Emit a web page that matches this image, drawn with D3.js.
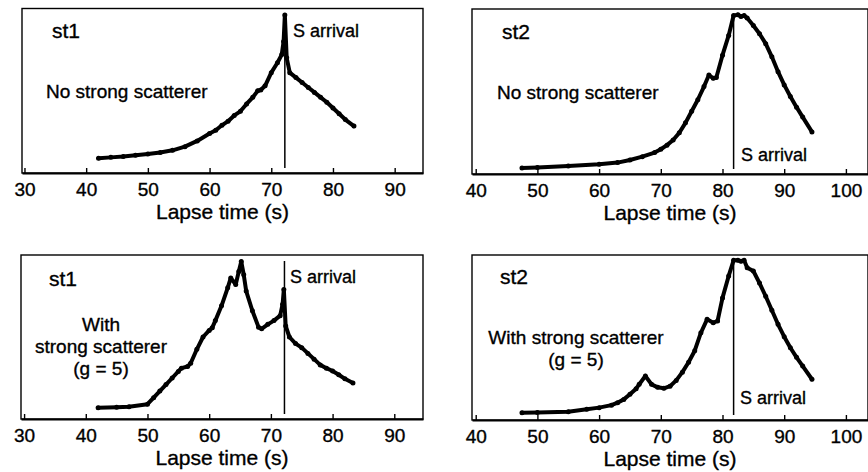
<!DOCTYPE html>
<html>
<head>
<meta charset="utf-8">
<script src="https://cdn.jsdelivr.net/npm/d3@7"></script>
<style>
    body { margin: 0; background: #fff; }
    svg { display: block; }
    text { font-family: "Liberation Sans", Arial, sans-serif; fill: #000; stroke: #000; stroke-width: 0.35; }
    .frame { fill: none; stroke: #000; stroke-width: 1.4; }
    .axis path { stroke: #000; stroke-width: 2; }
    .axis line { stroke: #000; stroke-width: 1.4; }
    .trace { fill: none; stroke: #000; stroke-width: 4; stroke-linejoin: round; stroke-linecap: round; }
    .sline { stroke: #000; stroke-width: 1.5; }
</style>
</head>
<body>
<div id="chart"></div>
<script>
    // lapse time (s) and relative envelope amplitude (0 = floor, 100 = top of frame)
    var st1NoTime = [42, 44, 46, 48, 50, 52, 54, 56, 58, 60, 61, 62, 63, 64, 65, 66, 67, 67.8, 68.3, 69, 70, 71, 71.7, 72.0, 72.2, 72.5, 73, 74, 75, 76, 77, 78, 79, 80, 81, 82, 83.4];
    var st1NoAmp = [9, 9.5, 10, 10.8, 11.5, 12.5, 13.8, 16, 19.5, 24, 26, 29, 31.5, 35, 37.5, 42, 46, 50, 50.5, 53, 61, 67, 72, 80, 96, 70, 61, 58, 55, 52, 49, 46, 43, 39.5, 36, 32.5, 28.5];

    var st2NoTime = [47.5, 50, 55, 60, 63, 65, 67, 69, 70, 71, 72, 73, 74, 75, 76, 77, 77.8, 78.5, 79, 80, 81, 81.8, 82.5, 83, 83.5, 84, 85, 86, 87, 88, 89, 90, 91, 92, 93, 94.5];
    var st2NoAmp = [3.6, 4, 4.8, 5.9, 6.9, 8.5, 10.5, 13, 15, 17.5, 20.6, 25, 31, 38, 45, 53, 60, 58, 58.5, 72, 84, 96, 96.5, 95.5, 96, 94.5, 90, 85, 79, 71, 62, 54, 47, 40.5, 34.5, 25.5];

    var st1WithTime = [42, 45, 47, 50, 51, 52, 53, 54, 55, 55.5, 56.5, 57, 58, 59, 60, 60.5, 61, 62, 63, 63.5, 64.3, 64.8, 65.2, 65.6, 66, 67, 68, 68.5, 69.5, 70.5, 71.5, 71.9, 72.1, 72.4, 73, 74, 75, 76, 77, 78, 79, 80, 81, 82, 83.3];
    var st1WithAmp = [6.9, 7.2, 7.5, 9, 13, 17, 21, 25, 29, 31, 32, 34, 42.5, 50, 54, 55.7, 60, 69, 80, 86, 82, 90, 96, 88, 78, 66, 56, 55, 57.7, 60, 63, 70, 79, 56.7, 50, 46, 43.5, 40, 36.5, 33, 31, 29.3, 27, 24.5, 22];

    var st2WithTime = [47.5, 50, 55, 58, 60, 62, 63, 64, 65, 66, 66.5, 67.5, 68.5, 69.5, 70.5, 71.5, 72.5, 73.5, 74.5, 75.5, 76.5, 77.5, 78.5, 79.2, 80, 81, 81.8, 82.5, 83, 83.5, 84, 85, 86, 87, 88, 89, 90, 91, 92, 93, 94.5];
    var st2WithAmp = [4.4, 4.6, 5, 6.5, 7.5, 9, 10.5, 12.5, 15.6, 19, 21.6, 26.7, 21.6, 19.8, 19.2, 20.5, 24, 29, 35, 42, 52.9, 61, 59, 60, 74, 87.3, 96.8, 96.8, 96.2, 96.8, 92.3, 90.3, 83, 75, 66.5, 58, 50.5, 43.8, 38, 32.7, 24.7];

    var st1Ticks = [30, 40, 50, 60, 70, 80, 90];
    var st2Ticks = [40, 50, 60, 70, 80, 90, 100];
    var sArrival = [72.2, 81.8];

    var panels = [
        { left: 22, right: 423, top: 8.5, bottom: 173, t0: 29.6, time: st1NoTime, amp: st1NoAmp, ticks: st1Ticks, s: sArrival[0],
          name: "st1", nameAt: [52, 38], sAt: [293, 37], note: ["No strong scatterer"], noteAt: [46, 98], noteAnchor: "start" },
        { left: 472, right: 868, top: 9, bottom: 174, t0: 39.4, time: st2NoTime, amp: st2NoAmp, ticks: st2Ticks, s: sArrival[1],
          name: "st2", nameAt: [502, 39], sAt: [741, 161], note: ["No strong scatterer"], noteAt: [497, 99], noteAnchor: "start" },
        { left: 21, right: 423, top: 255, bottom: 419, t0: 29.5, time: st1WithTime, amp: st1WithAmp, ticks: st1Ticks, s: sArrival[0],
          name: "st1", nameAt: [49, 286], sAt: [290, 283], note: ["With", "strong scatterer", "(g = 5)"], noteAt: [101, 331], noteAnchor: "middle" },
        { left: 472, right: 868, top: 255, bottom: 420, t0: 39.4, time: st2WithTime, amp: st2WithAmp, ticks: st2Ticks, s: sArrival[1],
          name: "st2", nameAt: [500, 284], sAt: [740, 404], note: ["With strong scatterer", "(g = 5)"], noteAt: [576, 344], noteAnchor: "middle" }
    ];

    var pxPerSec = 6.17;

    var svg = d3.select("#chart")
        .append("svg")
        .attr("width", 868)
        .attr("height", 472);

    panels.forEach(function (p) {
        var x = d3.scaleLinear()
            .domain([p.t0, p.t0 + (p.right - p.left) / pxPerSec])
            .range([p.left, p.right]);
        var y = d3.scaleLinear().domain([0, 100]).range([p.bottom, p.top]);

        var g = svg.append("g");

        g.append("rect")
            .attr("class", "frame")
            .attr("x", p.left)
            .attr("y", p.top)
            .attr("width", p.right - p.left)
            .attr("height", p.bottom - p.top);

        var ax = g.append("g")
            .attr("class", "axis")
            .attr("transform", "translate(0," + p.bottom + ")")
            .call(d3.axisBottom(x).tickValues(p.ticks).tickSizeInner(-5).tickSizeOuter(0).tickPadding(10));

        ax.selectAll("text")
            .attr("font-family", null)
            .attr("font-size", null)
            .style("font-size", "19px");

        g.append("text")
            .attr("x", (p.left + p.right) / 2)
            .attr("y", p.bottom + 46)
            .attr("text-anchor", "middle")
            .style("font-size", "21px")
            .text("Lapse time (s)");

        // S arrival marker
        g.append("line")
            .attr("class", "sline")
            .attr("x1", x(p.s)).attr("x2", x(p.s))
            .attr("y1", p.top + 6).attr("y2", p.bottom - 5);

        var pts = p.time.map(function (t, i) { return [t, p.amp[i]]; });

        g.append("path")
            .attr("class", "trace")
            .attr("d", d3.line()
                .x(function (d) { return x(d[0]); })
                .y(function (d) { return y(d[1]); })(pts));

        g.selectAll("circle.dot")
            .data(pts)
            .enter().append("circle")
            .attr("class", "dot")
            .attr("cx", function (d) { return x(d[0]); })
            .attr("cy", function (d) { return y(d[1]); })
            .attr("r", 2.5);

        g.append("text")
            .attr("x", p.nameAt[0]).attr("y", p.nameAt[1])
            .style("font-size", "21px")
            .text(p.name);

        g.append("text")
            .attr("x", p.sAt[0]).attr("y", p.sAt[1])
            .style("font-size", "18px")
            .text("S arrival");

        g.selectAll("text.note")
            .data(p.note)
            .enter().append("text")
            .attr("class", "note")
            .attr("x", p.noteAt[0])
            .attr("y", function (d, i) { return p.noteAt[1] + i * 22; })
            .attr("text-anchor", p.noteAnchor)
            .style("font-size", "19px")
            .text(function (d) { return d; });
    });
</script>
</body>
</html>
